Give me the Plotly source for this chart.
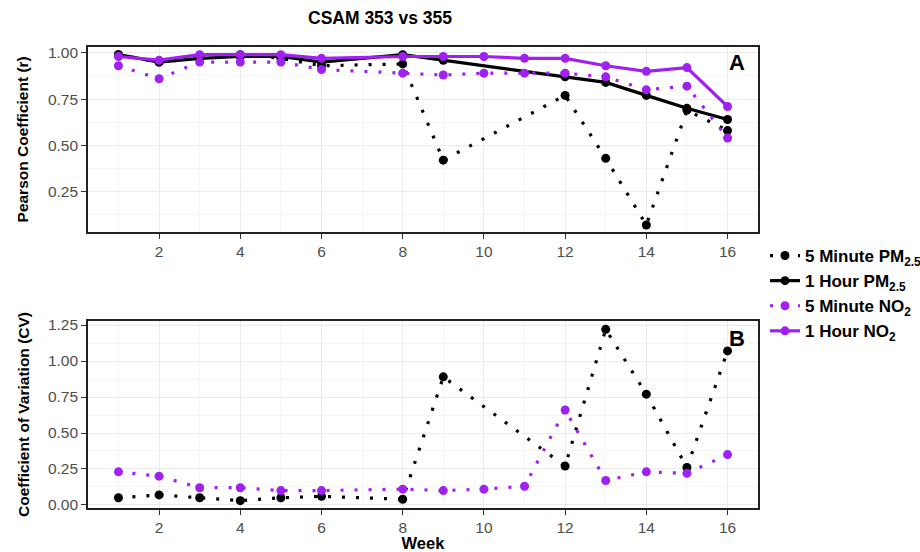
import plotly.graph_objects as go

weeks = [1, 2, 3, 4, 5, 6, 7, 8, 9, 10, 11, 12, 13, 14, 15, 16]

# Panel A: Pearson coefficient (r)
r_pm_5min = [0.99, 0.95, 0.97, 0.99, 0.97, 0.93, None, 0.94, 0.42, None, None, 0.77, 0.43, 0.07, 0.69, 0.58]
r_pm_1hr = [0.99, 0.95, 0.97, 0.98, 0.98, 0.95, None, 0.99, 0.96, None, None, 0.87, 0.84, 0.77, 0.70, 0.64]
r_no2_5min = [0.93, 0.86, 0.95, 0.95, 0.95, 0.91, None, 0.89, 0.88, 0.89, 0.89, 0.89, 0.87, 0.80, 0.82, 0.54]
r_no2_1hr = [0.98, 0.96, 0.99, 0.99, 0.99, 0.97, None, 0.98, 0.98, 0.98, 0.97, 0.97, 0.93, 0.90, 0.92, 0.71]

# Panel B: Coefficient of variation (CV)
cv_pm_5min = [0.05, 0.07, 0.05, 0.03, 0.05, 0.06, None, 0.04, 0.89, None, None, 0.27, 1.22, 0.77, 0.26, 1.07]
cv_no2_5min = [0.23, 0.20, 0.12, 0.12, 0.10, 0.10, None, 0.11, 0.10, 0.11, 0.13, 0.66, 0.17, 0.23, 0.22, 0.35]

x_ticks = [2, 4, 6, 8, 10, 12, 14, 16]
r_ticks = [0.25, 0.50, 0.75, 1.00]
cv_ticks = [0.00, 0.25, 0.50, 0.75, 1.00, 1.25]

legend_names = ["<b>5 Minute PM<sub>2.5</sub></b>", "<b>1 Hour PM<sub>2.5</sub></b>",
                "<b>5 Minute NO<sub>2</sub></b>", "<b>1 Hour NO<sub>2</sub></b>"]

BLACK = "#000000"
PURPLE = "#A020F0"
DOT = "3px,11px"
FONT = "Liberation Sans, Arial, sans-serif"

fig = go.Figure()

series_a = [
    (r_pm_5min, BLACK, DOT, legend_names[0]),
    (r_pm_1hr, BLACK, "solid", legend_names[1]),
    (r_no2_5min, PURPLE, DOT, legend_names[2]),
    (r_no2_1hr, PURPLE, "solid", legend_names[3]),
]
for i, (vals, col, dash, name) in enumerate(series_a):
    fig.add_trace(go.Scatter(
        x=weeks, y=vals, mode="lines+markers", connectgaps=True,
        line=dict(color=col, width=3.2, dash=dash),
        marker=dict(color=col, size=9),
        name=name, legendgroup=f"g{i}", showlegend=True,
        xaxis="x", yaxis="y"))

series_b = [
    (cv_pm_5min, BLACK, DOT),
    (cv_no2_5min, PURPLE, DOT),
]
for vals, col, dash in series_b:
    fig.add_trace(go.Scatter(
        x=weeks, y=vals, mode="lines+markers", connectgaps=True,
        line=dict(color=col, width=3.2, dash=dash),
        marker=dict(color=col, size=9),
        showlegend=False, xaxis="x2", yaxis="y2"))

W, H = 920, 552
xdom = [88 / W, 758 / W]
ydom_a = [1 - 232 / H, 1 - 46.7 / H]
ydom_b = [1 - 508 / H, 1 - 321 / H]

tickfont = dict(family=FONT, size=15.5, color="#4D4D4D")
common_x = dict(
    range=[0.25, 16.75], tickvals=x_ticks, ticktext=[str(t) for t in x_ticks],
    showgrid=True, gridcolor="#EBEBEB", gridwidth=1.1,
    minor=dict(tickvals=[1, 3, 5, 7, 9, 11, 13, 15], showgrid=True, gridcolor="#F5F5F5", gridwidth=0.6, ticks=""),
    showline=True, linecolor="#222222", linewidth=1.6, mirror=True,
    ticks="outside", ticklen=5, tickcolor="#333333", tickwidth=1,
    tickfont=tickfont, zeroline=False, domain=xdom)

fig.update_layout(
    width=W, height=H,
    margin=dict(l=0, r=0, t=0, b=0, autoexpand=False),
    paper_bgcolor="white", plot_bgcolor="white",
    font=dict(family=FONT),
    xaxis=dict(anchor="y", **common_x),
    xaxis2=dict(anchor="y2", **common_x,
                title=dict(text="<b>Week</b>", font=dict(family=FONT, size=16.5, color="black"), standoff=3)),
    yaxis=dict(
        domain=ydom_a, anchor="x", range=[0.032, 1.033],
        tickvals=r_ticks, ticktext=[f"{v:.2f}" for v in r_ticks],
        showgrid=True, gridcolor="#EBEBEB", gridwidth=1.1,
        minor=dict(tickvals=[0.125, 0.375, 0.625, 0.875], showgrid=True, gridcolor="#F5F5F5", gridwidth=0.6, ticks=""),
        showline=True, linecolor="#222222", linewidth=1.6, mirror=True,
        ticks="outside", ticklen=5, tickcolor="#333333",
        tickfont=tickfont, zeroline=False,
        title=dict(text="<b>Pearson Coefficient (r)</b>", font=dict(family=FONT, size=15.5, color="black"), standoff=15)),
    yaxis2=dict(
        domain=ydom_b, anchor="x2", range=[-0.021, 1.278],
        tickvals=cv_ticks, ticktext=[f"{v:.2f}" for v in cv_ticks],
        showgrid=True, gridcolor="#EBEBEB", gridwidth=1.1,
        minor=dict(tickvals=[0.125, 0.375, 0.625, 0.875, 1.125], showgrid=True, gridcolor="#F5F5F5", gridwidth=0.6, ticks=""),
        showline=True, linecolor="#222222", linewidth=1.6, mirror=True,
        ticks="outside", ticklen=5, tickcolor="#333333",
        tickfont=tickfont, zeroline=False,
        title=dict(text="<b>Coefficient of Variation (CV)</b>", font=dict(family=FONT, size=15.5, color="black"), standoff=15)),
    legend=dict(
        x=765 / W, y=1 - 238 / H, xanchor="left", yanchor="top",
        font=dict(family=FONT, size=17, color="black"),
        bgcolor="rgba(0,0,0,0)", itemwidth=30, tracegroupgap=7,
        traceorder="normal"),
    showlegend=True,
)

fig.add_annotation(text="<b>CSAM 353 vs 355</b>", x=380 / W, y=1 - 18 / H, xref="paper", yref="paper",
                   showarrow=False, font=dict(family=FONT, size=17.5, color="black"), xanchor="center", yanchor="middle")
fig.add_annotation(text="<b>A</b>", x=747 / W, y=1 - 62 / H, xref="paper", yref="paper",
                   showarrow=False, font=dict(family=FONT, size=22, color="black"), xanchor="right", yanchor="middle")
fig.add_annotation(text="<b>B</b>", x=747 / W, y=1 - 338 / H, xref="paper", yref="paper",
                   showarrow=False, font=dict(family=FONT, size=22, color="black"), xanchor="right", yanchor="middle")

fig.write_html("out.html")
